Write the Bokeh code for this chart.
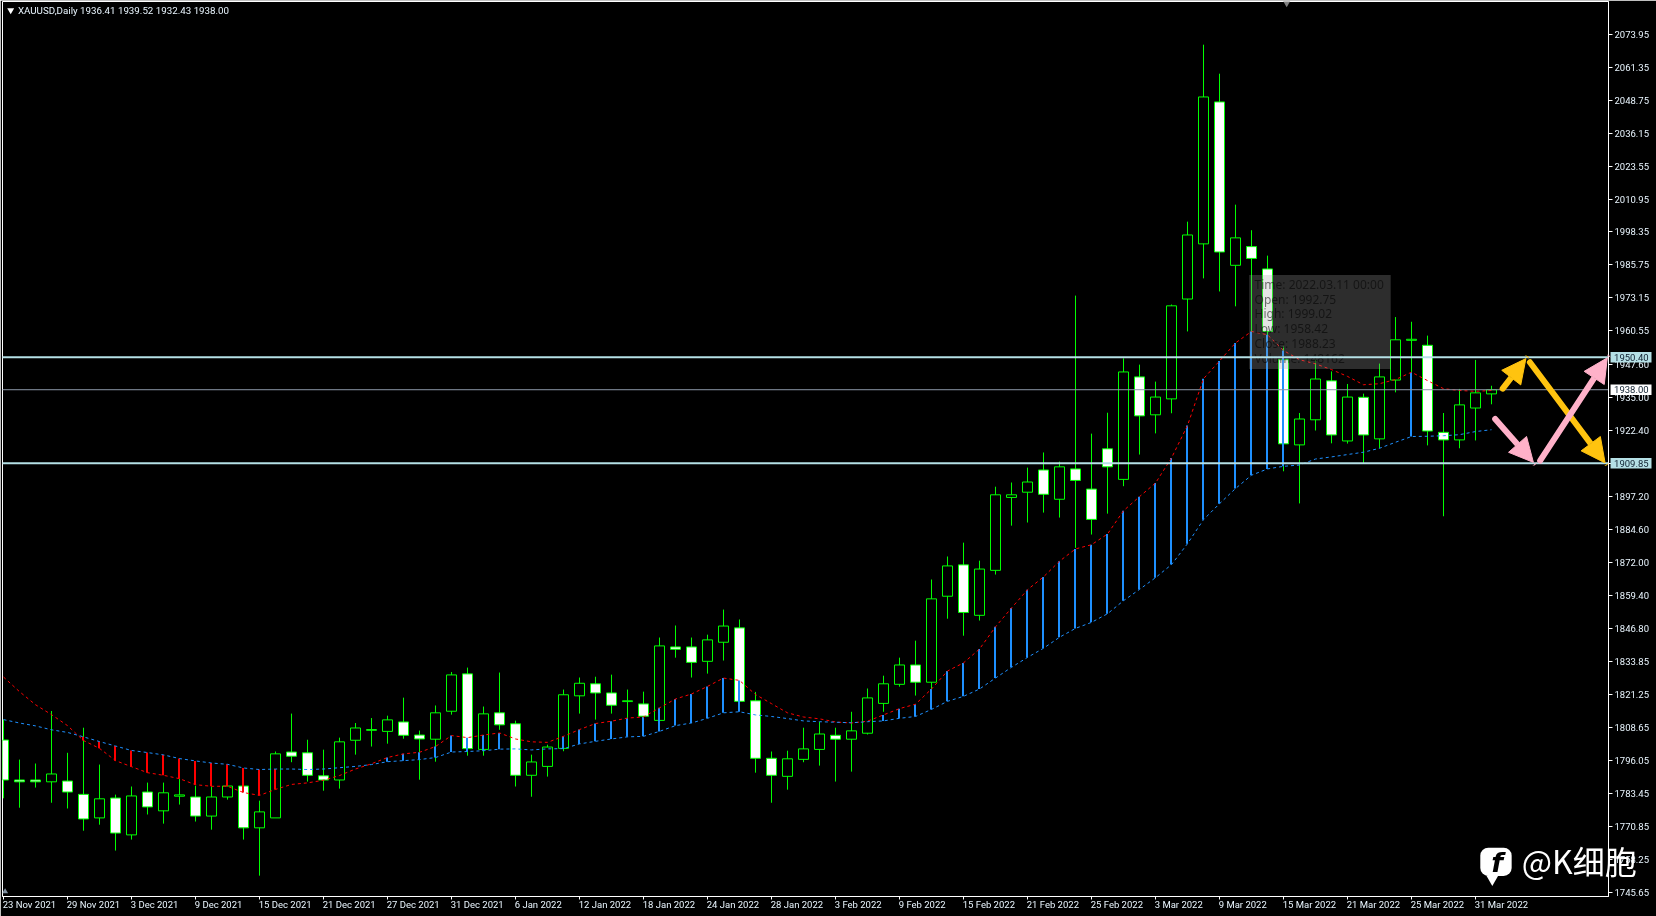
from bokeh.plotting import figure
from bokeh.embed import file_html
from bokeh.resources import INLINE
from bokeh.models import FixedTicker, PrintfTickFormatter, Arrow, NormalHead, ColumnDataSource
from bokeh.core.properties import value

# ---------- data ----------
high = [1811.8,1796.5,1795.0,1815.1,1799.1,1808.7,1794.6,1783.1,1786.2,1787.7,
        1787.7,1789.1,1786.5,1786.3,1786.5,1786.5,1780.8,1799.6,1814.1,1804.1,
        1800.3,1804.9,1810.5,1812.4,1813.3,1820.2,1807.6,1817.2,1830.0,1831.7,
        1816.8,1829.8,1811.4,1798.4,1802.2,1823.3,1827.9,1828.2,1829.0,1823.3,
        1822.5,1843.2,1847.8,1843.2,1844.3,1853.9,1850.1,1822.4,1799.6,1799.9,
        1808.7,1810.9,1808.7,1814.8,1823.7,1828.6,1835.5,1842.0,1865.4,1874.2,
        1879.5,1872.6,1900.9,1902.5,1908.2,1914.0,1910.5,1974.0,1921.2,1929.2,
        1950.0,1947.6,1941.1,1970.6,2002.3,2070.0,2058.9,2008.8,1999.02,1989.3,
        1954.5,1929.1,1949.5,1945.0,1940.2,1936.5,1948.0,1965.8,1964.0,1958.7,
        1929.1,1938.3,1949.4,1939.52]
open_ = [1804.0,1788.7,1788.7,1788.0,1788.3,1783.2,1774.2,1781.8,1767.7,1784.1,
         1776.9,1782.5,1782.2,1774.9,1782.2,1786.4,1770.4,1774.2,1799.4,1799.1,
         1790.3,1788.7,1803.9,1807.7,1807.3,1810.9,1805.9,1804.3,1815.0,1829.3,
         1800.4,1814.4,1810.2,1790.5,1793.9,1800.8,1820.9,1825.5,1822.0,1818.7,
         1817.8,1811.5,1839.6,1839.6,1834.1,1841.4,1846.9,1819.0,1797.0,1790.1,
         1796.6,1800.4,1805.8,1804.3,1806.6,1818.0,1825.3,1832.7,1826.1,1859.0,
         1871.0,1851.7,1868.9,1896.8,1898.8,1907.3,1896.1,1907.7,1900.0,1915.4,
         1903.7,1942.9,1928.4,1934.5,1972.7,1993.8,2048.1,1985.6,1992.75,1984.2,
         1949.5,1916.9,1926.5,1941.4,1918.4,1935.1,1919.2,1941.7,1956.9,1955.0,
         1921.7,1918.8,1931.0,1936.41]
close = [1788.7,1788.0,1788.0,1791.0,1784.1,1773.8,1781.5,1768.4,1782.6,1778.4,
         1783.8,1783.0,1774.9,1782.2,1786.4,1770.4,1776.5,1798.7,1797.8,1790.5,
         1788.7,1803.3,1808.6,1808.0,1811.7,1805.8,1804.4,1814.4,1828.9,1800.7,
         1814.0,1809.8,1790.5,1795.6,1801.3,1821.3,1825.7,1822.0,1817.3,1819.0,
         1813.1,1840.0,1838.7,1833.7,1842.3,1847.6,1818.8,1797.0,1790.5,1796.8,
         1800.6,1806.3,1804.3,1807.5,1820.1,1825.5,1832.7,1826.1,1858.0,1870.6,
         1852.8,1869.4,1897.8,1897.8,1902.7,1898.0,1908.5,1903.3,1888.4,1908.5,
         1944.8,1928.0,1935.2,1970.1,1997.2,2050.0,1990.7,1996.1,1988.23,1960.3,
         1917.3,1926.8,1942.1,1920.7,1935.2,1920.7,1942.9,1957.1,1957.3,1922.2,
         1918.8,1932.2,1936.8,1938.00]
low = [1781.7,1778.1,1785.8,1780.0,1777.8,1769.3,1771.6,1761.7,1765.9,1775.5,
       1772.0,1779.3,1772.8,1769.7,1781.2,1765.9,1752.1,1774.2,1795.5,1788.1,
       1784.6,1785.4,1798.4,1801.5,1802.6,1804.5,1788.8,1795.7,1813.7,1798.0,
       1798.0,1807.9,1786.2,1782.3,1790.0,1799.7,1814.1,1811.8,1814.1,1812.2,
       1812.1,1811.5,1835.5,1827.9,1829.4,1834.4,1818.2,1791.5,1780.0,1785.0,
       1795.5,1794.2,1788.1,1791.9,1806.1,1814.8,1824.4,1821.0,1823.5,1850.4,
       1843.9,1849.7,1867.3,1886.0,1887.2,1891.0,1889.1,1877.5,1882.6,1890.6,
       1901.1,1913.2,1921.3,1929.0,1960.3,1980.6,1975.6,1969.9,1958.42,1957.2,
       1906.8,1894.5,1922.4,1917.5,1917.4,1910.0,1915.6,1937.0,1941.9,1916.7,
       1889.6,1915.6,1918.6,1932.43]
red_ma = [1828.1,1822.5,1817.5,1813.7,1809.5,1803.8,1800.8,1796.1,1793.8,1791.5,
          1790.5,1789.2,1786.9,1786.3,1786.3,1783.9,1782.8,1785.1,1787.0,1787.6,
          1788.6,1790.4,1792.9,1794.9,1797.3,1798.7,1799.3,1801.5,1805.7,1804.9,
          1805.9,1806.7,1804.4,1803.3,1803.1,1805.4,1808.0,1810.3,1811.2,1812.4,
          1812.8,1816.3,1819.7,1821.6,1824.5,1827.7,1826.8,1821.4,1817.9,1814.4,
          1812.8,1812.1,1810.9,1810.5,1811.2,1813.6,1816.0,1817.7,1823.5,1830.4,
          1833.5,1838.8,1847.3,1854.5,1861.5,1866.4,1872.4,1877.1,1878.7,1882.8,
          1891.7,1897.1,1902.3,1911.9,1924.3,1942.2,1949.0,1955.9,1960.3,1959.0,
          1953.0,1949.5,1947.9,1945.7,1943.1,1939.9,1940.3,1941.9,1944.7,1941.5,
          1938.4,1937.7,1937.4,1937.7]
blue_ma = [1811.8,1810.5,1809.4,1807.9,1806.9,1805.2,1803.4,1801.7,1800.0,1799.2,
           1798.3,1796.9,1796.0,1795.2,1794.7,1793.3,1792.7,1792.9,1792.9,1792.7,
           1792.9,1793.4,1793.9,1794.6,1795.7,1796.1,1796.5,1797.3,1799.4,1799.6,
           1799.9,1800.5,1800.6,1800.2,1800.6,1800.7,1802.5,1803.5,1804.4,1805.2,
           1805.4,1807.3,1809.5,1810.5,1812.3,1814.4,1814.8,1813.6,1813.0,1812.2,
           1811.3,1811.0,1810.8,1810.6,1811.0,1811.3,1812.3,1813.0,1815.7,1818.8,
           1820.7,1823.5,1827.7,1831.8,1835.6,1839.1,1843.3,1846.7,1849.0,1852.3,
           1857.3,1861.6,1866.1,1871.1,1879.1,1888.3,1894.4,1900.2,1905.3,1907.7,
           1908.7,1909.2,1911.5,1912.3,1913.2,1914.1,1915.6,1917.9,1920.1,1920.2,
           1920.4,1920.8,1922.0,1922.7]
# candles on which the gap between the two averages is drawn as a bar
bar_candles = (list(range(5, 18)) + list(range(24, 32)) + list(range(35, 47))
               + list(range(55, 81)) + [88])

price_ticks = [2073.95,2061.35,2048.75,2036.15,2023.55,2010.95,1998.35,1985.75,1973.15,
               1960.55,1947.60,1935.00,1922.40,1909.80,1897.20,1884.60,1872.00,1859.40,
               1846.80,1833.85,1821.25,1808.65,1796.05,1783.45,1770.85,1758.25,1745.65]
date_labels = ["23 Nov 2021","29 Nov 2021","3 Dec 2021","9 Dec 2021","15 Dec 2021","21 Dec 2021",
               "27 Dec 2021","31 Dec 2021","6 Jan 2022","12 Jan 2022","18 Jan 2022","24 Jan 2022",
               "28 Jan 2022","3 Feb 2022","9 Feb 2022","15 Feb 2022","21 Feb 2022","25 Feb 2022",
               "3 Mar 2022","9 Mar 2022","15 Mar 2022","21 Mar 2022","25 Mar 2022","31 Mar 2022"]
resistance, support, last_price = 1950.40, 1909.85, 1938.00
header = "XAUUSD,Daily  1936.41 1939.52 1932.43 1938.00"
tooltip_lines = ["Time: 2022.03.11 00:00","Open: 1992.75","High: 1999.02","Low: 1958.42",
                 "Close: 1988.23","Volume: 148162"]
tooltip_y = [1978.2,1972.6,1967.0,1961.3,1955.5,1949.8]
# arrows: (x start, price start, x end, price end)
yellow_arrows = [(93.70,1938.4,95.15,1949.9),(95.40,1948.5,100.10,1910.0)]
pink_arrows = [(93.23,1926.8,95.62,1910.2),(96.04,1910.9,100.24,1950.2)]

GREEN, RED, BLUE = "#00FF00", "#FF0000", "#1E90FF"
CYAN = "#B5E0E6"
FONT = "Roboto"

n = len(close)
idx = list(range(n))
fixed = {"position": "fixed", "left": "0px", "top": "0px"}

p = figure(width=1656, height=916, output_backend="svg", toolbar_location=None,
           x_range=(-0.0625, 100.3125), y_range=(1744.13, 2086.52),
           y_axis_location="right", background_fill_color="black", border_fill_color="black",
           min_border_left=2, min_border_right=48, min_border_top=1, min_border_bottom=20,
           outline_line_color="white", outline_line_width=1, styles=fixed)
p.grid.visible = False

# axes
ya = p.yaxis[0]
ya.ticker = FixedTicker(ticks=price_ticks)
ya.formatter = PrintfTickFormatter(format="%.2f")
ya.axis_line_color = "white"
ya.major_tick_line_color = "white"
ya.major_tick_in = 0
ya.major_tick_out = 4
ya.minor_tick_line_color = None
ya.major_label_standoff = 2
ya.major_label_text_color = "#EAF6FF"
ya.major_label_text_font = FONT
ya.major_label_text_font_size = "9.5px"

xa = p.xaxis[0]
xa.ticker = FixedTicker(ticks=list(range(0, n, 4)))
xa.major_label_overrides = {i * 4: "" for i in range(len(date_labels))}
xa.axis_line_color = "white"
xa.major_tick_line_color = "white"
xa.major_tick_in = 0
xa.major_tick_out = 3
xa.minor_tick_line_color = None

# candles
src = ColumnDataSource(dict(
    x=idx, high=high, low=low,
    top=[max(o, c) for o, c in zip(open_, close)],
    bottom=[min(o, c) for o, c in zip(open_, close)],
    fill=["white" if c < o else "black" for o, c in zip(open_, close)]))
p.segment("x", "high", "x", "low", source=src, line_color=GREEN, line_width=1)
p.vbar("x", 0.625, "top", "bottom", source=src, fill_color="fill", line_color=GREEN, line_width=1)

# bars between the averages
bar_x = [i - 0.03125 for i in bar_candles]
bar_a = [red_ma[i] for i in bar_candles]
bar_b = [blue_ma[i] for i in bar_candles]
bar_c = [BLUE if red_ma[i] > blue_ma[i] else RED for i in bar_candles]
p.segment(bar_x, bar_a, bar_x, bar_b, line_color=bar_c, line_width=2)

# averages
p.line(idx, red_ma, line_color=RED, line_width=1, line_dash="3 3")
p.line(idx, blue_ma, line_color=BLUE, line_width=1, line_dash="3 3")

# tooltip
p.quad(left=[77.86], right=[86.7], top=[1981.9], bottom=[1945.9],
       fill_color="#A0A0A0", fill_alpha=0.28, line_color=None)
p.text([78.19] * len(tooltip_lines), tooltip_y, text=tooltip_lines, text_color="black", text_alpha=0.55,
       text_font=value("Noto Sans"), text_font_size="12px", text_baseline="middle")

# levels
p.line([-1, 102], [last_price] * 2, line_color="#8C98A8", line_width=1)
p.line([-1, 102], [resistance] * 2, line_color=CYAN, line_width=2)
p.line([-1, 102], [support] * 2, line_color=CYAN, line_width=2)

# chart markers
p.scatter([0.45], [2083.2], marker="inverted_triangle", size=7, fill_color="white", line_color=None)
p.scatter([80.2], [2086.3], marker="inverted_triangle", size=9, fill_color="#808080", line_color=None)
p.scatter([0.1], [1746.0], marker="triangle", size=6, fill_color="#8090A0", line_color=None)
p.text([0.9], [2083.2], text=[header], text_color="#EAF6FF", text_font=value(FONT),
       text_font_size="9.75px", text_baseline="middle")

# transparent layer on the same scales, covering the whole window, for what crosses the plot edge
q = figure(width=1656, height=916, output_backend="svg", toolbar_location=None,
           x_range=(-0.1875, 103.3125), y_range=(1736.48, 2086.90),
           x_axis_location=None, y_axis_location=None, background_fill_color=None,
           border_fill_color=None, outline_line_color=None,
           min_border_left=0, min_border_right=0, min_border_top=0, min_border_bottom=0,
           styles=fixed)
q.grid.visible = False

# date labels start at their tick
q.text([i * 4 - 0.05 for i in range(len(date_labels))], [1741.0] * len(date_labels), text=date_labels,
       text_color="#EAF6FF", text_font=value(FONT), text_font_size="9.5px",
       text_baseline="middle", text_align="left")

# arrows
for arrows, col in ((yellow_arrows, "#FFC30F"), (pink_arrows, "#FFB1C9")):
    for xs, ys, xe, ye in arrows:
        q.add_layout(Arrow(x_start=xs, y_start=ys, x_end=xe, y_end=ye, line_color=col, line_width=6,
                           line_cap="round",
                           end=NormalHead(size=24, fill_color=col, line_color=col, line_width=1)))

# price flags
flag_prices = [resistance, support, last_price]
flag_colors = [CYAN, CYAN, "white"]
q.quad(left=[100.44] * 3, right=[103.0] * 3,
       top=[v + 2.0 for v in flag_prices], bottom=[v - 2.0 for v in flag_prices],
       fill_color=flag_colors, line_color=None)
q.text([100.66] * 3, flag_prices, text=[f"{v:.2f}" for v in flag_prices], text_color="#102030",
       text_font=value(FONT), text_font_size="9.5px", text_baseline="middle", text_align="left")

# watermark
q.quad(left=[92.3], right=[94.26], top=[1762.8], bottom=[1752.0], fill_color="white",
       line_color=None, border_radius=8)
q.scatter([93.05], [1750.8], marker="inverted_triangle", size=12, fill_color="white", line_color=None)
q.text([93.35], [1757.3], text=["f"], text_color="black", text_font=value("DejaVu Sans"),
       text_font_style="bold italic", text_font_size="27px", text_align="center", text_baseline="middle")
q.text([94.89], [1758.0], text=["@K细胞"], text_color="white", text_font=value("Noto Sans CJK SC"),
       text_font_size="32px", text_baseline="middle", text_align="left")

open("out.html", "w").write(file_html([p, q], INLINE))
